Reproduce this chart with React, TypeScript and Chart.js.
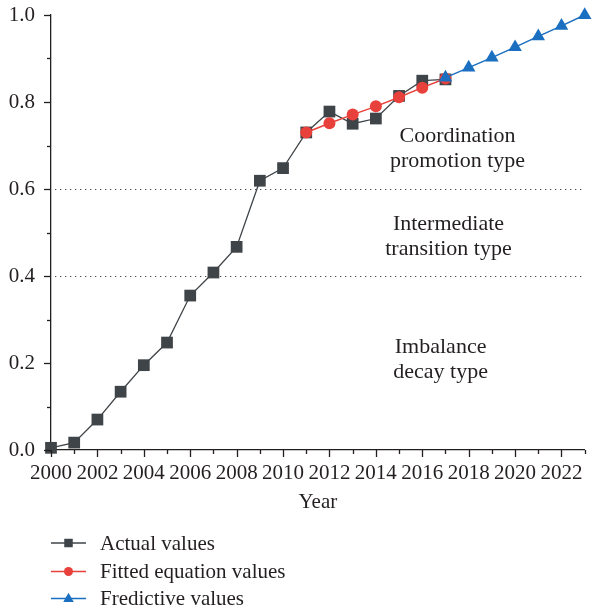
import { useEffect, useRef } from 'react';
import { Chart, registerables } from 'chart.js';

Chart.register(...registerables);

const actualYears = [2000, 2001, 2002, 2003, 2004, 2005, 2006, 2007, 2008, 2009, 2010, 2011, 2012, 2013, 2014, 2015, 2016, 2017];
const actualValues = [0.005, 0.017, 0.07, 0.134, 0.195, 0.247, 0.355, 0.408, 0.467, 0.619, 0.648, 0.73, 0.778, 0.75, 0.762, 0.814, 0.849, 0.852];

const fittedYears = [2011, 2012, 2013, 2014, 2015, 2016, 2017];
const fittedValues = [0.73, 0.751, 0.771, 0.79, 0.811, 0.833, 0.854];

const predictiveYears = [2017, 2018, 2019, 2020, 2021, 2022, 2023];
const predictiveValues = [0.856, 0.879, 0.902, 0.926, 0.951, 0.975, 1.0];

const seriesNames = ['Actual values', 'Fitted equation values', 'Fredictive values'];

const xMajorTicks = [2000, 2002, 2004, 2006, 2008, 2010, 2012, 2014, 2016, 2018, 2020, 2022];
const xMinorTicks = [2001, 2003, 2005, 2007, 2009, 2011, 2013, 2015, 2017, 2019, 2021, 2023];
const yMajorTicks = [0, 0.2, 0.4, 0.6, 0.8, 1.0];
const yMinorTicks = [0.1, 0.3, 0.5, 0.7, 0.9];

const thresholds = [0.4, 0.6];
const zoneLabels = [
  ['Coordination', 'promotion type'],
  ['Intermediate', 'transition type'],
  ['Imbalance', 'decay type'],
];

const FONT = '"Liberation Serif", "DejaVu Serif", serif';
const TEXT = '#231f20';
const GRAY = '#3f4448';
const RED = '#e8403a';
const BLUE = '#1a6fc0';

function drawMarker(ctx: CanvasRenderingContext2D, style: string, x: number, y: number, size: number, color: string) {
  ctx.fillStyle = color;
  ctx.beginPath();
  if (style === 'rect') {
    ctx.rect(x - size / 2, y - size / 2, size, size);
  } else if (style === 'circle') {
    ctx.arc(x, y, size / 2, 0, Math.PI * 2);
  } else {
    const h = size * 0.87;
    ctx.moveTo(x, y - h * 0.62);
    ctx.lineTo(x + size / 2, y + h * 0.38);
    ctx.lineTo(x - size / 2, y + h * 0.38);
    ctx.closePath();
  }
  ctx.fill();
}

const overlayPlugin = {
  id: 'overlay',
  beforeDatasetsDraw(chart: any) {
    const { ctx, chartArea, scales } = chart;
    const x = scales.x;
    const y = scales.y;
    ctx.save();
    ctx.strokeStyle = '#4a4a4a';
    ctx.lineWidth = 1.2;
    ctx.setLineDash([1.3, 3.7]);
    thresholds.forEach((t) => {
      const py = Math.round(y.getPixelForValue(t)) + 0.5;
      ctx.beginPath();
      ctx.moveTo(chartArea.left + 4, py);
      ctx.lineTo(chartArea.right, py);
      ctx.stroke();
    });
    ctx.setLineDash([]);
    // zone labels: [center year, baseline value of first line]
    const anchors = [
      [2017.52, 0.708],
      [2017.13, 0.506],
      [2016.79, 0.223],
    ];
    ctx.fillStyle = TEXT;
    ctx.font = `22px ${FONT}`;
    ctx.textAlign = 'center';
    ctx.textBaseline = 'alphabetic';
    zoneLabels.forEach((lines, i) => {
      const cx = x.getPixelForValue(anchors[i][0]);
      const by = y.getPixelForValue(anchors[i][1]);
      lines.forEach((line, j) => {
        ctx.fillText(line, cx, by + j * 25);
      });
    });
    ctx.restore();
  },
  afterDraw(chart: any) {
    const { ctx, scales } = chart;
    const x = scales.x;
    const y = scales.y;
    const axisY = y.getPixelForValue(0);
    const axisX = x.getPixelForValue(2000);
    ctx.save();
    ctx.strokeStyle = TEXT;
    ctx.lineWidth = 1.3;
    const tick = (vals: number[], len: number) => {
      vals.forEach((v) => {
        const px = Math.round(x.getPixelForValue(v)) + 0.5;
        ctx.beginPath();
        ctx.moveTo(px, axisY);
        ctx.lineTo(px, axisY + len);
        ctx.stroke();
      });
    };
    tick(xMajorTicks, 7);
    tick(xMinorTicks, 4);
    const ytick = (vals: number[], len: number) => {
      vals.forEach((v) => {
        const py = Math.round(y.getPixelForValue(v)) + 0.5;
        ctx.beginPath();
        ctx.moveTo(axisX, py);
        ctx.lineTo(axisX - len, py);
        ctx.stroke();
      });
    };
    ytick(yMajorTicks, 7);
    ytick(yMinorTicks, 4);

    // legend
    const styles = ['rect', 'circle', 'triangle'];
    const colors = [GRAY, RED, BLUE];
    const sizes = [8.5, 9, 10.5];
    const rowY = [543, 571.5, 598.5];
    ctx.font = `21px ${FONT}`;
    ctx.textAlign = 'left';
    ctx.textBaseline = 'middle';
    seriesNames.forEach((name, i) => {
      ctx.strokeStyle = colors[i];
      ctx.lineWidth = 1.5;
      ctx.beginPath();
      ctx.moveTo(51, rowY[i]);
      ctx.lineTo(86, rowY[i]);
      ctx.stroke();
      drawMarker(ctx, styles[i], 68.5, rowY[i], sizes[i], colors[i]);
      ctx.fillStyle = TEXT;
      ctx.fillText(name, 100, rowY[i] + 1);
    });
    ctx.restore();
  },
};

export default function App() {
  const ref = useRef<HTMLCanvasElement | null>(null);
  useEffect(() => {
    if (!ref.current) return;
    const toXY = (xs: number[], ys: number[]) => xs.map((v, i) => ({ x: v, y: ys[i] }));
    const chart = new Chart(ref.current, {
      type: 'line',
      data: {
        datasets: [
          {
            label: seriesNames[2],
            data: toXY(predictiveYears, predictiveValues),
            borderColor: BLUE,
            backgroundColor: BLUE,
            borderWidth: 1.5,
            pointStyle: 'triangle',
            pointRadius: 7.8,
            pointBorderWidth: 0,
            pointBackgroundColor: BLUE,
            clip: false,
            order: 0,
          } as any,
          {
            label: seriesNames[1],
            data: toXY(fittedYears, fittedValues),
            borderColor: RED,
            backgroundColor: RED,
            borderWidth: 1.5,
            pointStyle: 'circle',
            pointRadius: 6,
            pointBorderWidth: 0,
            pointBackgroundColor: RED,
            clip: false,
            order: 1,
          },
          {
            label: seriesNames[0],
            data: toXY(actualYears, actualValues),
            borderColor: GRAY,
            backgroundColor: GRAY,
            borderWidth: 1.3,
            pointStyle: 'rect',
            pointRadius: 8.3,
            pointBorderWidth: 0,
            pointBackgroundColor: GRAY,
            clip: false,
            order: 2,
          },
        ],
      },
      options: {
        animation: false,
        responsive: false,
        maintainAspectRatio: false,
        layout: { padding: { top: 15, right: 1, bottom: 95, left: 0 } },
        plugins: { legend: { display: false }, tooltip: { enabled: false } },
        scales: {
          x: {
            type: 'linear',
            min: 2000,
            max: 2023,
            grid: { display: false, drawTicks: false },
            border: { display: true, color: TEXT, width: 1.3 },
            ticks: {
              padding: 11,
              autoSkip: false,
              maxRotation: 0,
              color: TEXT,
              font: { family: FONT, size: 21 },
              callback: (v: any) => String(v),
            },
            afterBuildTicks: (s: any) => {
              s.ticks = xMajorTicks.map((v) => ({ value: v }));
            },
            afterFit: (s: any) => {
              s.height = 65;
              s.paddingLeft = 0;
              s.paddingRight = 0;
            },
            title: {
              display: true,
              text: 'Year',
              color: TEXT,
              font: { family: FONT, size: 21 },
              padding: 0,
            },
          },
          y: {
            type: 'linear',
            min: 0,
            max: 1,
            grid: { display: false, drawTicks: false },
            border: { display: true, color: TEXT, width: 1.3 },
            ticks: {
              padding: 16,
              color: TEXT,
              font: { family: FONT, size: 21 },
              callback: (v: any) => Number(v).toFixed(1),
            },
            afterBuildTicks: (s: any) => {
              s.ticks = yMajorTicks.map((v) => ({ value: v }));
            },
            afterFit: (s: any) => {
              s.width = 51;
              s.paddingTop = 0;
              s.paddingBottom = 0;
            },
          },
        },
      },
      plugins: [overlayPlugin],
    } as any);
    return () => chart.destroy();
  }, []);
  return (
    <div style={{ position: 'absolute', left: 0, top: 0, width: 593, height: 610 }}>
      <canvas ref={ref} width={593} height={610} style={{ display: 'block', width: 593, height: 610 }} />
    </div>
  );
}
